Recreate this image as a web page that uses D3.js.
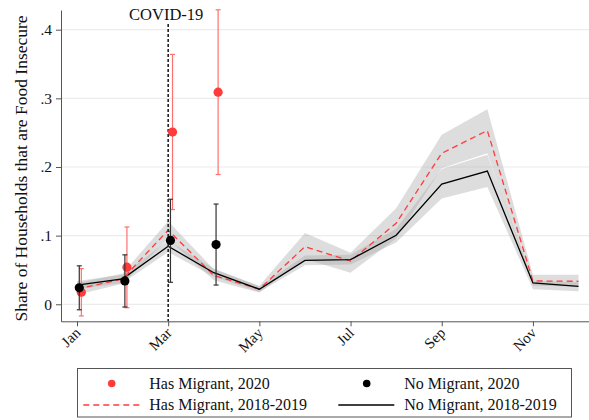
<!DOCTYPE html>
<html><head><meta charset="utf-8">
<script src="https://cdn.jsdelivr.net/npm/d3@7"></script>
<style>body{margin:0;background:#fff}svg{display:block}</style>
</head><body><svg id="c" width="589" height="420"></svg>
<script>
const months = [1,2,3,4,5,6,7,8,9,10,11,12];
const tickMonths = [1,3,5,7,9,11];
const tickLabels = ["Jan","Mar","May","Jul","Sep","Nov"];
const yTicks = [0,0.1,0.2,0.3,0.4];
const yTickLabels = ["0",".1",".2",".3",".4"];

// 2020 point estimates with 95% CI (Jan-Apr)
const pointMonths = [1,2,3,4];
const hasMig2020 = [0.0175,0.054,0.251,0.309];
const hasMig2020Lo = [-0.017,-0.005,0.138,0.189];
const hasMig2020Hi = [0.052,0.1126,0.364,0.429];
const noMig2020 = [0.024,0.034,0.093,0.087];
const noMig2020Lo = [-0.008,-0.004,0.032,0.028];
const noMig2020Hi = [0.056,0.072,0.153,0.146];

// 2018-2019 monthly averages with CI bands
const hasMigPrev = [0.022,0.037,0.108,0.042,0.022,0.084,0.063,0.118,0.220,0.253,0.034,0.0335];
const hasMigPrevLo = [0.014,0.030,0.095,0.035,0.017,0.066,0.046,0.096,0.198,0.220,0.027,0.026];
const hasMigPrevHi = [0.031,0.045,0.121,0.051,0.027,0.104,0.075,0.140,0.247,0.284,0.043,0.043];
const noMigPrev = [0.028,0.037,0.0845,0.046,0.022,0.064,0.065,0.1005,0.175,0.194,0.031,0.026];
const noMigPrevLo = [0.022,0.031,0.076,0.040,0.018,0.057,0.058,0.090,0.154,0.171,0.022,0.019];
const noMigPrevHi = [0.034,0.043,0.093,0.052,0.026,0.071,0.072,0.110,0.197,0.218,0.034,0.032];

const covidMonth = 3;
const legendItems = ["Has Migrant, 2020","No Migrant, 2020","Has Migrant, 2018-2019","No Migrant, 2018-2019"];

const RED = "#ff3b3b", FONT = "'Liberation Serif', 'DejaVu Serif', serif";
const svg = d3.select("#c");
const x = d3.scaleLinear().domain([0.649, 12.23]).range([61, 589]);
const y = d3.scaleLinear().domain([-0.0248, 0.4287]).range([321.3, 10]);

// gridlines
svg.append("g").selectAll("line").data(yTicks).join("line")
  .attr("x1", 61).attr("x2", 589).attr("y1", d=>y(d)).attr("y2", d=>y(d))
  .attr("stroke", "#ececec").attr("stroke-width", 1.2);

// bands
const band = (lo, hi) => d3.area().x((d,i)=>x(months[i])).y0((d,i)=>y(lo[i])).y1((d,i)=>y(hi[i]));
svg.append("path").datum(months).attr("d", band(hasMigPrevLo, hasMigPrevHi)).attr("fill", "#aaa").attr("opacity", 0.4);
svg.append("path").datum(months).attr("d", band(noMigPrevLo, noMigPrevHi)).attr("fill", "#aaa").attr("opacity", 0.4);

// lines
const line = vals => d3.line().x((d,i)=>x(months[i])).y((d,i)=>y(vals[i]));
svg.append("path").datum(months).attr("d", line(hasMigPrev)).attr("fill","none")
  .attr("stroke", RED).attr("stroke-width", 1.3).attr("stroke-dasharray", "6,4");
svg.append("path").datum(months).attr("d", line(noMigPrev)).attr("fill","none")
  .attr("stroke", "#000").attr("stroke-width", 1.3);

// COVID line
svg.append("line").attr("x1", x(covidMonth)).attr("x2", x(covidMonth)).attr("y1", 24).attr("y2", 321)
  .attr("stroke", "#222").attr("stroke-width", 1.6).attr("stroke-dasharray", "3,2");
svg.append("text").attr("x", x(covidMonth)-2).attr("y", 20).attr("text-anchor","middle")
  .attr("font-family", FONT).attr("font-size", 16.5).attr("fill","#111").text("COVID-19");

// error bars + points
function pts(vals, lo, hi, off, col, ecol) {
  const g = svg.append("g");
  pointMonths.forEach((m,i)=>{
    const cx = x(m + off);
    g.append("line").attr("x1",cx).attr("x2",cx).attr("y1",y(lo[i])).attr("y2",y(hi[i])).attr("stroke",ecol).attr("stroke-width",1.2);
    [lo[i],hi[i]].forEach(v=>g.append("line").attr("x1",cx-2.5).attr("x2",cx+2.5).attr("y1",y(v)).attr("y2",y(v)).attr("stroke",ecol).attr("stroke-width",1.2));
  });
  g.selectAll("circle").data(vals).join("circle").attr("cx",(d,i)=>x(pointMonths[i]+off)).attr("cy",d=>y(d)).attr("r",4.6).attr("fill",col);
}
pts(hasMig2020, hasMig2020Lo, hasMig2020Hi, 0.095, RED, "#ff7070");
pts(noMig2020, noMig2020Lo, noMig2020Hi, 0.05, "#000", "#333");

// axes
const xAxis = d3.axisBottom(x).tickValues(tickMonths).tickFormat((d,i)=>tickLabels[i]).tickSize(5).tickSizeOuter(0);
const gx = svg.append("g").attr("transform","translate(0,321.3)").call(xAxis);
gx.select(".domain").attr("stroke","#555");
gx.selectAll(".tick line").attr("stroke","#555");
gx.selectAll("text").attr("font-family",FONT).attr("font-size",15).attr("fill","#111")
  .attr("text-anchor","end").attr("x",0).attr("y",0).attr("dx",0).attr("dy",0)
  .attr("transform","translate(4,12.5) rotate(-45)");
const yAxis = d3.axisLeft(y).tickValues(yTicks).tickFormat((d,i)=>yTickLabels[i]).tickSize(5).tickSizeOuter(0);
const gy = svg.append("g").attr("transform","translate(61,0)").call(yAxis);
gy.select(".domain").attr("stroke","#555");
gy.selectAll(".tick line").attr("stroke","#555");
gy.selectAll("text").attr("font-family",FONT).attr("font-size",15.5).attr("fill","#111").attr("x",-9);

svg.append("text").attr("transform","translate(27,168.5) rotate(-90)").attr("text-anchor","middle")
  .attr("font-family",FONT).attr("font-size",17.5).attr("fill","#111").text("Share of Households that are Food Insecure");

// legend
const lg = svg.append("g");
lg.append("rect").attr("x",77.5).attr("y",368.5).attr("width",494).attr("height",48.5).attr("fill","#fff").attr("stroke","#555").attr("stroke-width",1);
const tx = [149.3, 404.3], rowY = [383.5, 405];
lg.append("circle").attr("cx",111.7).attr("cy",rowY[0]).attr("r",3.8).attr("fill",RED);
lg.append("circle").attr("cx",366.7).attr("cy",rowY[0]).attr("r",3.8).attr("fill","#000");
lg.append("line").attr("x1",83.3).attr("x2",141).attr("y1",rowY[1]).attr("y2",rowY[1]).attr("stroke",RED).attr("stroke-width",1.3).attr("stroke-dasharray","6,4");
lg.append("line").attr("x1",338.3).attr("x2",394.3).attr("y1",rowY[1]).attr("y2",rowY[1]).attr("stroke","#000").attr("stroke-width",1.3);
lg.selectAll("text").data(legendItems).join("text")
  .attr("x",(d,i)=>tx[i%2]).attr("y",(d,i)=>rowY[Math.floor(i/2)]+5)
  .attr("font-family",FONT).attr("font-size",16).attr("fill","#111").text(d=>d);
</script></body></html>
